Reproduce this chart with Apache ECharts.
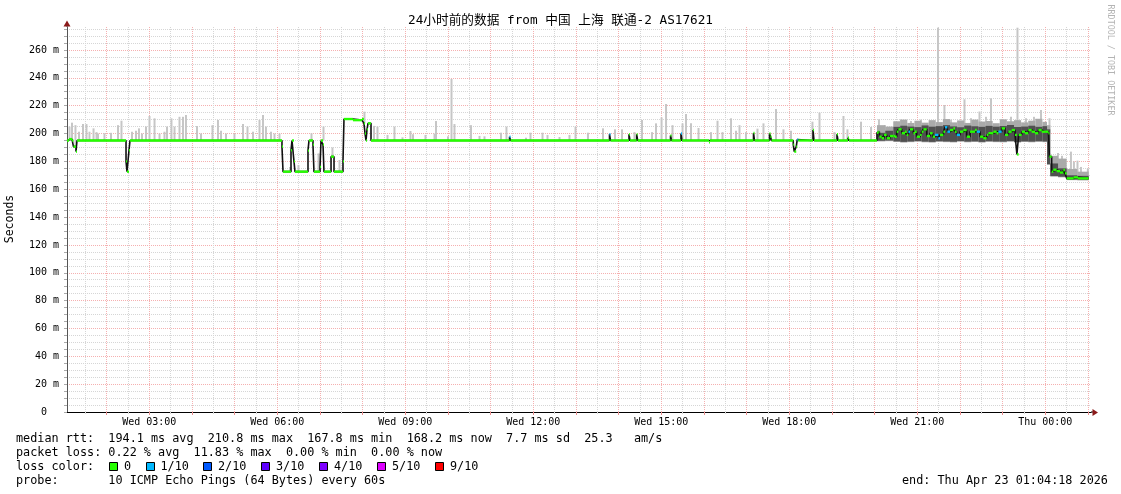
<!DOCTYPE html>
<html><head><meta charset="utf-8">
<script src="https://cdn.jsdelivr.net/npm/echarts@6/dist/echarts.min.js"></script>
<style>html,body{margin:0;padding:0;background:#fff}#c{width:1121px;height:494px}</style>
</head><body><div id="c"></div>
<script>
// ---------- time axis (minutes since Wed 00:00) ----------
const T_START = 64.3;      // Wed 01:04:18
const T_END = 1504.3;      // Thu 01:04:18
const DATA_END = 1501.0;
const xLabelTimes = [180, 360, 540, 720, 900, 1080, 1260, 1440];
const xLabels = ['Wed 03:00', 'Wed 06:00', 'Wed 09:00', 'Wed 12:00', 'Wed 15:00', 'Wed 18:00', 'Wed 21:00', 'Thu 00:00'];
const hourTimes = [120,180,240,300,360,420,480,540,600,660,720,780,840,900,960,1020,1080,1140,1200,1260,1320,1380,1440,1500];
const halfHourTimes = [90,150,210,270,330,390,450,510,570,630,690,750,810,870,930,990,1050,1110,1170,1230,1290,1350,1410,1470];

// ---------- y axis ----------
const Y_MAX = 276.5;
const yMajorStep = 20;
const yMinorStep = 5;

// ---------- median rtt (ms); value held until next time ----------
const medT = [64.3,67.1,71.3,73.4,76.9,78.4,147.3,148.7,151.5,152.9,
  366.6,368.1,379.3,380.7,383.5,384.9,403.2,404.6,410.2,411.6,420.1,421.5,424.3,425.7,435.6,439.8,452.4,453.8,466.4,479.1,481.9,483.4,484.8,486.2,487.6,491.8,
  686.6,688.0,827.2,828.6,854.6,856.0,865.4,866.8,913.0,914.4,927.7,929.1,967.1,968.5,1029.7,1031.1,1052.2,1053.6,1055.0,
  1085.6,1087.0,1089.8,1091.2,1092.6,1113.4,1114.8,1147.1,1148.5,1162.6,1164.0,
  1203.3,1205.3,1206.7,1210.0,1213.3,1217.0,1221.7,1226.4,1228.7,1231.1,1233.4,1238.1,1242.8,1245.1,1247.5,1249.8,1254.5,1256.8,1259.2,1263.9,1266.2,1268.6,
  1273.3,1277.9,1281.7,1285.0,1289.7,1292.0,1296.7,1299.0,1302.3,1306.1,1310.8,1313.1,1315.4,1320.1,1324.8,1329.5,1334.2,1341.2,1343.6,1348.3,1352.9,
  1357.6,1360.0,1367.0,1371.7,1374.0,1378.7,1383.4,1388.1,1392.8,1397.5,1400.1,1402.6,1406.9,1411.5,1416.2,1420.9,1425.6,1430.3,1435.0,1439.7,1444.4,
  1445.8,1449.0,1451.3,1456.0,1460.7,1465.4,1467.7,1470.1,1480.0,1486.0];
const medV = [195.0,196.0,195.0,190.6,187.0,195.0,180.0,172.6,188.0,195.0,
  190.6,172.6,188.0,195.0,180.0,172.6,187.7,195.0,192.0,172.6,176.0,195.0,192.0,172.6,183.4,172.6,180.0,210.4,209.6,210.4,207.3,200.0,195.0,203.0,207.3,195.0,
  197.7,195.0,199.5,195.0,199.4,195.0,199.4,195.0,198.6,195.0,200.0,195.0,193.6,195.0,200.4,195.0,200.0,197.7,195.0,
  192.0,187.0,190.6,195.6,195.0,202.5,195.0,199.5,195.0,197.0,195.0,
  200.6,201.3,197.7,196.6,199.0,196.6,198.2,198.2,197.7,201.3,203.0,200.2,201.3,199.0,201.3,203.0,200.2,201.3,197.7,199.0,201.3,203.0,
  198.2,200.2,197.7,199.0,196.6,199.0,201.3,204.5,201.3,202.5,203.7,201.3,199.0,201.3,202.5,197.7,201.3,202.5,201.3,197.7,196.6,
  199.0,200.2,201.3,200.2,201.3,203.7,199.0,201.3,202.5,199.0,185.0,199.0,201.3,200.2,202.5,201.3,200.2,202.5,201.3,201.3,200.2,
  183.4,172.6,174.0,173.0,172.0,173.8,171.4,167.8,168.5,167.8];
// loss index per median segment (0 = no loss, 1 = 1/10)
const medLoss = [0,0,0,0,0,0,0,0,0,0,
  0,0,0,0,0,0,0,0,0,0,0,0,0,0,0,0,0,0,0,0,0,0,0,0,0,0,
  1,0,1,0,0,0,0,0,0,0,1,0,0,0,0,0,0,0,0,
  0,0,0,1,0,0,0,0,0,0,0,
  0,0,0,0,0,0,0,0,0,0,0,0,0,0,1,0,0,0,0,0,0,0,
  0,0,0,1,1,0,0,1,1,0,0,0,1,0,0,0,0,0,1,0,0,
  0,0,0,0,1,0,0,0,0,0,0,0,0,0,0,0,0,0,0,0,0,
  0,0,0,0,0,0,0,0,0,0];

// ---------- smoke spikes (ping spread above the median) ----------
const spikeT = [66.4,69.9,74.8,79.8,85.4,90.3,94.5,100.2,104.4,106.5,115.6,124.8,134.6,139.5,154.3,159.9,164.1,168.4,174.0,178.9,186.0,193.0,200.0,203.5,
  209.8,214.1,221.1,226.0,230.2,245.7,251.3,267.5,275.2,279.5,286.5,298.4,310.4,316.7,324.5,333.6,338.5,342.7,349.8,354.7,361.7,
  376.5,388.4,406.7,416.6,423.6,436.2,446.1,481.2,494.6,499.5,513.6,523.4,534.7,545.9,549.5,567.0,579.7,581.8,598.7,603.6,607.8,
  631.0,643.0,650.0,673.2,680.9,708.4,714.7,731.6,738.6,755.5,769.5,778.0,795.5,816.6,833.5,843.4,860.9,871.5,885.6,891.2,899.0,905.3,
  914.4,928.5,933.4,940.4,951.0,968.5,977.7,984.7,996.7,1003.7,1008.6,1017.7,1033.9,1042.3,1059.9,1070.4,1081.0,1111.2,1121.1,1142.2,1154.8,1160.4,
  1179.5,1193.6,1204.7,1213.1,1226.5,1235.6,1249.7,1263.8,1277.9,1287.7,1296.8,1306.0,1325.0,1334.1,1346.1,1355.2,1362.3,1376.3,1390.4,1399.5,
  1411.5,1422.7,1432.6,1444.5,1456.5,1462.1,1474.7,1478.9,1483.9,1488.8,1498.5];
const spikeLo = [195,195,190,195,195,195,195,195,195,195,195,195,195,195,195,195,195,195,195,195,195,195,195,195,
  195,195,195,195,195,195,195,195,195,195,195,195,195,195,195,195,195,195,195,195,195,
  172.6,172.6,195,172.6,195,183,172.6,207,195,195,195,195,195,195,195,195,195,195,195,195,195,
  195,195,195,195,195,195,195,195,195,195,195,195,195,195,195,195,195,195,195,195,195,195,
  195,195,195,195,195,195,195,195,195,195,195,195,195,195,195,195,195,195,195,195,195,195,
  195,195,196,196,200,200,200,200,200,200,200,200,200,200,200,200,200,200,200,200,
  200,200,200,200,173,172,168,168,168,168,168];
const spikeHi = [205,207.8,206,201.3,206.8,206.8,201.3,203.7,201,200,200.2,200.5,206,209.2,201.3,202,203.7,200,205,212.6,210.9,200,201.3,205,
  210.9,205,212,212,213.3,205.4,200,206,209.7,202,200,200,206.8,205,201.3,209.7,213.3,205,201.3,200,200,
  176,177.4,200.2,185.7,205,190,181,215.7,205.5,205,199,205,197.3,201.8,199.5,199,200,209,198,239.2,206.8,
  206,198.3,198,200.6,205,197,200.6,200.6,199,197.5,199,205,200.6,203.7,203,203,201,209.7,201,207.3,211.6,221.2,
  206,207.3,214,207.3,204,201,209.2,201,210.9,202,206,201,203.5,207.3,217.6,203,202,208.5,215,201,212.6,203,
  208.5,204.7,210.2,206,208.5,210,209,210,209,276,220.5,210,224.6,211,215.8,212,225.3,210,212,276,
  211,212,216.9,211,186,184,187,180,180.5,176,175];

// ---------- dense smoke band (many pings spread) ----------
const bandStart = [1203.3,1215.0,1226.4,1236.0,1246.0,1256.0,1266.0,1276.0,1286.0,1296.0,1306.0,1316.0,1326.0,1336.0,1346.0,1356.0,1366.0,1376.0,1386.0,1396.0,1406.0,1416.0,1426.0,1436.0,1442.4,1447.0,1458.0,1470.1,1485.0];
const bandStop  = [1215.0,1226.4,1236.0,1246.0,1256.0,1266.0,1276.0,1286.0,1296.0,1306.0,1316.0,1326.0,1336.0,1346.0,1356.0,1366.0,1376.0,1386.0,1396.0,1406.0,1416.0,1426.0,1436.0,1442.4,1447.0,1458.0,1470.1,1485.0,1501.0];
const bandLo    = [194.8,195.0,194.4,194.0,194.3,194.6,194.2,194.0,194.5,194.3,194.1,194.6,194.2,194.4,194.0,194.5,194.3,194.2,194.6,194.0,194.4,194.2,194.5,194.3,178.0,169.5,169.0,167.0,166.8];
const bandHi    = [200.5,202.0,204.8,205.6,205.0,204.6,205.8,204.9,205.3,206.0,205.1,204.5,205.7,205.2,204.8,205.5,204.9,205.4,206.1,204.7,205.0,205.6,204.8,205.3,203.0,178.5,175.0,170.0,169.6];
const bandTop   = [206.0,205.0,208.8,210.0,207.6,209.2,207.8,209.6,208.2,210.4,208.0,209.4,207.6,210.0,208.6,209.0,207.4,210.2,208.8,209.6,208.0,209.2,210.6,208.4,206.0,184.0,182.0,174.5,172.6];

// ---------- legend ----------
const lossColors = ['#26ff00', '#00b8ff', '#0059ff', '#5e00ff', '#7e00ff', '#dd00ff', '#ff0000'];
const lossLabels = ['0', '1/10', '2/10', '3/10', '4/10', '5/10', '9/10'];
const titleText = '24小时前的数据 from 中国 上海 联通-2 AS17621';
const statsMedian = 'median rtt:  194.1 ms avg  210.8 ms max  167.8 ms min  168.2 ms now  7.7 ms sd  25.3   am/s';
const statsLoss = 'packet loss: 0.22 % avg  11.83 % max  0.00 % min  0.00 % now';
const probeText = 'probe:       10 ICMP Echo Pings (64 Bytes) every 60s';
const endText = 'end: Thu Apr 23 01:04:18 2026';

// ---------- style constants ----------
const MONO = '"DejaVu Sans Mono", "Noto Sans CJK SC", monospace';
const SPIKE_W = 2.8;     // minutes, width of a smoke column
const MED_HALF = 0.85;   // half thickness of median bar (ms)
const RED_GRID = '#f5b0b0';
const GREY_GRID = '#d6d6d6';

// build series data
const spikeData = spikeT.map((t, i) => [t, t + SPIKE_W, spikeLo[i], spikeHi[i]]);
const bandOuter = bandStart.map((t, i) => [t, bandStop[i], bandLo[i] - 0.5, bandTop[i]]);
const bandInner = bandStart.map((t, i) => [t, bandStop[i], bandLo[i], bandHi[i]]);
const medLine = medT.map((t, i) => [t, medV[i]]).concat([[DATA_END, medV[medV.length - 1]]]);
const medBars = medT.map((t, i) => [t, i + 1 < medT.length ? medT[i + 1] : DATA_END, medV[i] - MED_HALF, medV[i] + MED_HALF, medLoss[i]]);

function rectRender(fill) {
  return function (params, api) {
    const a = api.coord([api.value(0), api.value(3)]);
    const b = api.coord([api.value(1), api.value(2)]);
    const f = typeof fill === 'function' ? fill(api) : fill;
    return { type: 'rect', shape: { x: a[0], y: a[1], width: Math.max(1, b[0] - a[0]), height: Math.max(1, b[1] - a[1]) }, style: { fill: f } };
  };
}

const legendGraphics = [];
const boxX = [109, 146, 203, 261, 319, 377, 435];
const boxTextX = [124, 160.5, 218, 276, 334, 392, 450];
lossColors.forEach((c, i) => {
  legendGraphics.push({ type: 'rect', shape: { x: boxX[i] + 0.5, y: 462.5, width: 8, height: 8 }, style: { fill: c, stroke: '#000', lineWidth: 1 } });
  legendGraphics.push({ type: 'text', x: boxTextX[i], y: 466.5, style: { text: lossLabels[i], font: '11.8px ' + MONO, fill: '#000', align: 'left', verticalAlign: 'middle' } });
});

const option = {
  animation: false,
  backgroundColor: '#fff',
  grid: { left: 67, right: 30, top: 27, bottom: 82, containLabel: false },
  xAxis: [{
    type: 'value', min: T_START, max: T_END, position: 'bottom',
    axisLine: { show: true, onZero: false, lineStyle: { color: '#000', width: 1 } },
    axisTick: { show: true, customValues: hourTimes, length: 3, lineStyle: { color: '#e89090' } },
    axisLabel: { show: true, customValues: xLabelTimes, margin: 5, color: '#000', fontFamily: MONO, fontSize: 10,
      formatter: v => { const i = xLabelTimes.findIndex(t => Math.abs(t - v) < 0.01); return i >= 0 ? xLabels[i] : ''; } },
    splitLine: { show: true, lineStyle: { color: RED_GRID, type: [1, 1], width: 1 } }
  }, {
    type: 'value', min: T_START, max: T_END, position: 'bottom',
    axisLine: { show: false },
    axisTick: { show: true, customValues: halfHourTimes, length: 2, lineStyle: { color: GREY_GRID } },
    axisLabel: { show: false },
    splitLine: { show: true, lineStyle: { color: GREY_GRID, type: [1, 1], width: 1 } }
  }],
  yAxis: {
    type: 'value', min: 0, max: Y_MAX, interval: yMinorStep,
    axisLine: { show: true, lineStyle: { color: '#555', width: 1 } },
    axisTick: { show: true, length: 3, lineStyle: { color: '#aaa' } },
    axisLabel: { margin: 8, color: '#000', fontFamily: MONO, fontSize: 10, showMaxLabel: false,
      formatter: v => (Math.abs(v % yMajorStep) < 0.001 ? (v === 0 ? '0\u00a0\u00a0' : v + ' m') : '') },
    splitLine: { show: true, showMaxLine: false, lineStyle: { color: [RED_GRID, GREY_GRID, GREY_GRID, GREY_GRID], type: [1, 1], width: 1 } }
  },
  series: [
    { type: 'custom', name: 'smokeOuter', coordinateSystem: 'cartesian2d', renderItem: rectRender('#aaaaaa'), data: bandOuter, silent: true, z: 2 },
    { type: 'custom', name: 'smokeInner', coordinateSystem: 'cartesian2d', renderItem: rectRender('#505050'), data: bandInner, silent: true, z: 3 },
    { type: 'custom', name: 'smokeSpikes', coordinateSystem: 'cartesian2d', renderItem: rectRender('#c6c6c6'), data: spikeData, silent: true, z: 1 },
    { type: 'line', name: 'medianStep', step: 'end', data: medLine, symbol: 'none', silent: true, z: 4,
      lineStyle: { color: '#111', width: 1.6 } },
    { type: 'custom', name: 'median', coordinateSystem: 'cartesian2d', silent: true, z: 5,
      renderItem: rectRender(api => lossColors[api.value(4)]), data: medBars }
  ],
  graphic: [
    { type: 'text', x: 560.5, y: 21, style: { text: titleText, font: '12.7px ' + MONO, fill: '#000', align: 'center', verticalAlign: 'middle' } },
    { type: 'text', x: 10, y: 219, rotation: Math.PI / 2, style: { text: 'Seconds', font: '11.5px ' + MONO, fill: '#000', align: 'center', verticalAlign: 'middle' } },
    { type: 'text', x: 1110, y: 60, rotation: -Math.PI / 2, style: { text: 'RRDTOOL / TOBI OETIKER', font: '8.4px ' + MONO, fill: '#b4b4b4', align: 'center', verticalAlign: 'middle' } },
    { type: 'line', shape: { x1: 67, y1: 27, x2: 67, y2: 24 }, style: { stroke: '#555', lineWidth: 1 } },
    { type: 'polygon', shape: { points: [[63.5, 26.5], [70.5, 26.5], [67, 20.5]] }, style: { fill: '#8b1a1a' } },
    { type: 'line', shape: { x1: 1091, y1: 412, x2: 1094, y2: 412 }, style: { stroke: '#000', lineWidth: 1 } },
    { type: 'polygon', shape: { points: [[1092.5, 409], [1092.5, 416], [1098, 412.5]] }, style: { fill: '#8b1a1a' } },
    { type: 'text', x: 16, y: 438.5, style: { text: statsMedian, font: '11.8px ' + MONO, fill: '#000', align: 'left', verticalAlign: 'middle' } },
    { type: 'text', x: 16, y: 452.5, style: { text: statsLoss, font: '11.8px ' + MONO, fill: '#000', align: 'left', verticalAlign: 'middle' } },
    { type: 'text', x: 16, y: 466.5, style: { text: 'loss color:', font: '11.8px ' + MONO, fill: '#000', align: 'left', verticalAlign: 'middle' } },
    { type: 'text', x: 16, y: 480.5, style: { text: probeText, font: '11.8px ' + MONO, fill: '#000', align: 'left', verticalAlign: 'middle' } },
    { type: 'text', x: 902, y: 480.5, style: { text: endText, font: '11.8px ' + MONO, fill: '#000', align: 'left', verticalAlign: 'middle' } }
  ].concat(legendGraphics)
};

const chart = echarts.init(document.getElementById('c'), null, { renderer: 'canvas' });
chart.setOption(option);
</script>
</body></html>
